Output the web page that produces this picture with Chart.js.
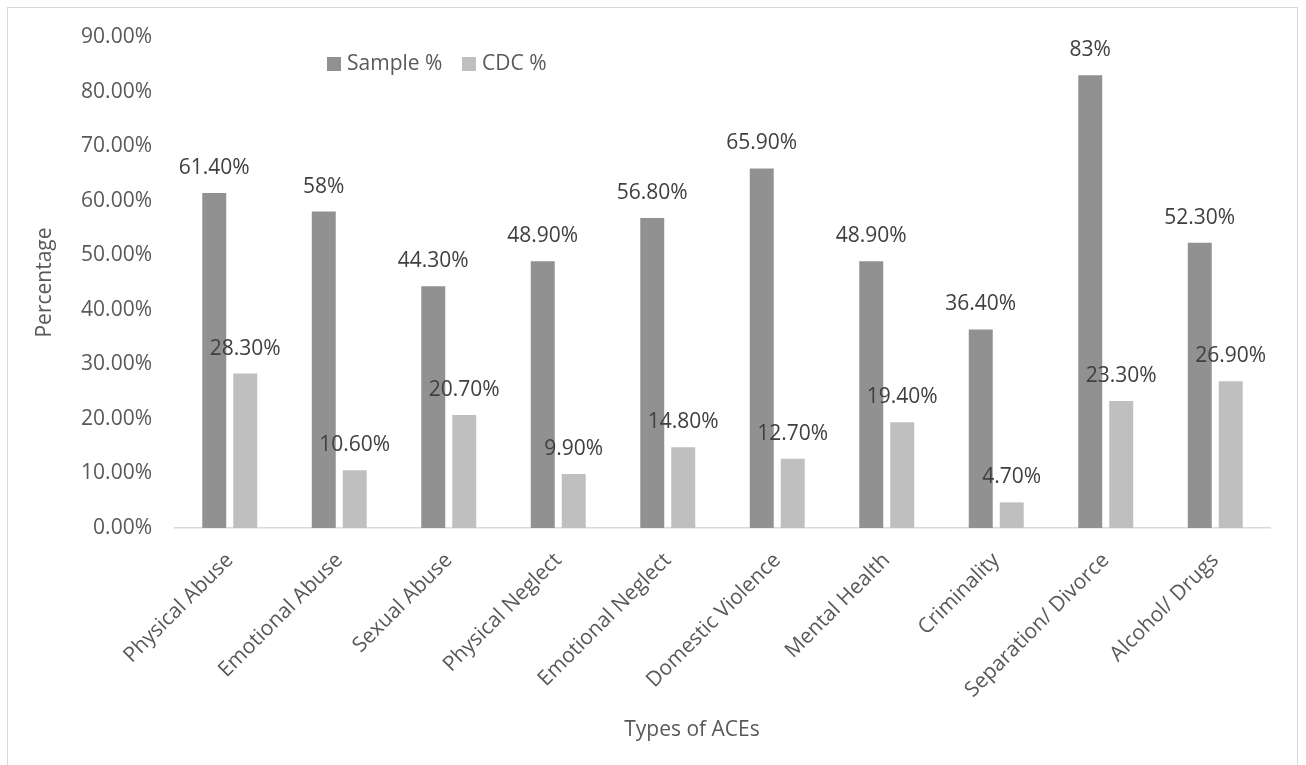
<!DOCTYPE html>
<html>
<head>
<meta charset="utf-8">
<script src="https://cdn.jsdelivr.net/npm/chart.js@4/dist/chart.umd.min.js"></script>
<style>
  html, body { margin: 0; padding: 0; background: #ffffff; }
  #wrap { position: relative; width: 1306px; height: 765px; overflow: hidden; }
  #frame { position: absolute; left: 7px; top: 7px; width: 1291px; height: 800px; border: 1.5px solid #d9d9d9; box-sizing: border-box; }
  #c { position: absolute; left: 0; top: 0; }
</style>
</head>
<body>
<div id="wrap">
  <div id="frame"></div>
  <canvas id="c" width="1306" height="765"></canvas>
</div>
<script>
// ---- data ----
const categories = ["Physical Abuse", "Emotional Abuse", "Sexual Abuse", "Physical Neglect", "Emotional Neglect",
                    "Domestic Violence", "Mental Health", "Criminality", "Separation/ Divorce", "Alcohol/ Drugs"];
const sampleValues = [61.4, 58, 44.3, 48.9, 56.8, 65.9, 48.9, 36.4, 83, 52.3];
const cdcValues    = [28.3, 10.6, 20.7, 9.9, 14.8, 12.7, 19.4, 4.7, 23.3, 26.9];
const sampleLabels = ["61.40%", "58%", "44.30%", "48.90%", "56.80%", "65.90%", "48.90%", "36.40%", "83%", "52.30%"];
const cdcLabels    = ["28.30%", "10.60%", "20.70%", "9.90%", "14.80%", "12.70%", "19.40%", "4.70%", "23.30%", "26.90%"];
const seriesNames  = ["Sample %", "CDC %"];
const yTickMin = 0, yTickMax = 90, yTickStep = 10;
const xAxisTitle = "Types of ACEs";
const yAxisTitle = "Percentage";

// ---- style ----
const FONT = "'Open Sans', 'DejaVu Sans', sans-serif";
const FS = 21;
const colSample = "#919191";
const colCdc = "#bfbfbf";
const textGrey = "#595959";
const labelGrey = "#404040";

const valueLabelPlugin = {
  id: 'valueLabels',
  afterDatasetsDraw(chart) {
    const ctx = chart.ctx;
    const texts = [sampleLabels, cdcLabels];
    ctx.save();
    ctx.font = FS + "px " + FONT;
    ctx.fillStyle = labelGrey;
    ctx.textAlign = "center";
    ctx.textBaseline = "middle";
    chart.data.datasets.forEach((ds, di) => {
      const meta = chart.getDatasetMeta(di);
      meta.data.forEach((bar, i) => {
        ctx.fillText(texts[di][i], bar.x, bar.y - 25);
      });
    });
    ctx.restore();
  }
};

const customLegendAndTitle = {
  id: 'customLegend',
  afterDraw(chart) {
    const ctx = chart.ctx;
    const items = [{ x: 327, color: colSample, text: seriesNames[0] },
                   { x: 462, color: colCdc, text: seriesNames[1] }];
    ctx.save();
    ctx.font = FS + "px " + FONT;
    ctx.textBaseline = "middle";
    ctx.textAlign = "left";
    items.forEach(it => {
      ctx.fillStyle = it.color;
      ctx.fillRect(it.x, 57, 14, 14);
      ctx.fillStyle = textGrey;
      ctx.fillText(it.text, it.x + 20, 64);
    });
    // x axis title (placed as in the original, slightly left of plot centre)
    ctx.textAlign = "center";
    ctx.fillStyle = textGrey;
    ctx.fillText(xAxisTitle, 692, 730);
    ctx.restore();
  }
};

new Chart(document.getElementById('c'), {
  type: 'bar',
  data: {
    labels: categories,
    datasets: [
      { label: seriesNames[0], data: sampleValues, backgroundColor: colSample, borderWidth: 0 },
      { label: seriesNames[1], data: cdcValues, backgroundColor: colCdc, borderWidth: 0 }
    ]
  },
  options: {
    responsive: false,
    animation: false,
    devicePixelRatio: 1,
    layout: { padding: { top: 37, right: 36, bottom: 0, left: 0 } },
    datasets: { bar: { categoryPercentage: 0.566, barPercentage: 0.774 } },
    plugins: {
      legend: { display: false },
      tooltip: { enabled: false }
    },
    scales: {
      x: {
        grid: { display: false, drawTicks: false },
        border: { display: true, color: "#d9d9d9", width: 1.5 },
        ticks: {
          color: textGrey, font: { family: FONT, size: FS },
          minRotation: 45, maxRotation: 45, autoSkip: false, padding: 20
        },
        title: { display: false },
        afterFit(scale) { scale.height = 237; }
      },
      y: {
        min: yTickMin, max: yTickMax,
        grid: { display: false, drawTicks: false },
        border: { display: false },
        ticks: {
          stepSize: yTickStep, color: textGrey, font: { family: FONT, size: FS }, padding: 23,
          callback: v => v.toFixed(2) + "%"
        },
        title: {
          display: true, text: yAxisTitle, color: textGrey,
          font: { family: FONT, size: FS }, padding: { top: 32, bottom: 0 }
        },
        afterFit(scale) { scale.width = 175; }
      }
    }
  },
  plugins: [valueLabelPlugin, customLegendAndTitle]
});
</script>
</body>
</html>
